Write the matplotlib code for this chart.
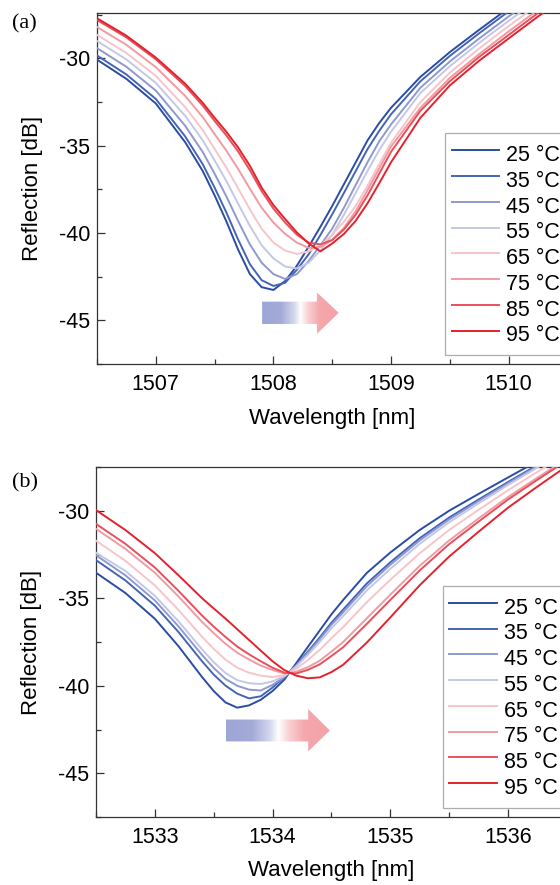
import numpy as np
import matplotlib
matplotlib.use("Agg")
import matplotlib.pyplot as plt
from matplotlib.colors import LinearSegmentedColormap
from matplotlib.patches import Polygon
from matplotlib.ticker import MultipleLocator

plt.rcParams["font.family"] = ["Liberation Sans", "DejaVu Sans"]
plt.rcParams["axes.unicode_minus"] = False

temps = [25, 35, 45, 55, 65, 75, 85, 95]
labels = [f"{t} °C" for t in temps]
colors = ["#2a4da3", "#4464b5", "#8e99cf", "#c3c8e6",
          "#f7c5c9", "#f29aa1", "#e8505b", "#e3222d"]

# (a) wavelength grid [nm] and reflection [dB] per temperature
wl_a = [1506.5, 1506.75, 1507.0, 1507.25, 1507.4, 1507.5, 1507.6, 1507.7, 1507.8, 1507.9,
        1508.0, 1508.1, 1508.2, 1508.3, 1508.4, 1508.5, 1508.6, 1508.7, 1508.8, 1508.9,
        1509.0, 1509.25, 1509.5, 1509.75, 1510.0, 1510.25, 1510.5]
a_25 = [-30.07, -31.17, -32.58, -34.8, -36.46, -37.84, -39.33, -40.95, -42.35, -43.1,
        -43.26, -42.75, -41.87, -40.78, -39.64, -38.45, -37.2, -35.95, -34.7, -33.7,
        -32.83, -31.06, -29.64, -28.36, -27.12, -25.97, -24.85]
a_35 = [-29.83, -30.92, -32.32, -34.47, -36.07, -37.4, -38.82, -40.37, -41.78, -42.7,
        -43.03, -42.85, -42.1, -41.22, -40.11, -38.93, -37.7, -36.45, -35.2, -34.15,
        -33.2, -31.31, -29.86, -28.56, -27.31, -26.15, -25.05]
a_45 = [-29.41, -30.48, -31.84, -33.86, -35.37, -36.6, -37.9, -39.31, -40.65, -41.7,
        -42.35, -42.63, -42.35, -41.6, -40.7, -39.75, -38.55, -37.25, -35.95, -34.75,
        -33.78, -31.68, -30.18, -28.86, -27.6, -26.43, -25.3]
a_55 = [-29.0, -30.06, -31.4, -33.29, -34.7, -35.84, -37.02, -38.32, -39.59, -40.7,
        -41.45, -41.92, -42.03, -41.7, -41.0, -40.1, -38.95, -37.7, -36.45, -35.25,
        -34.2, -31.98, -30.45, -29.11, -27.85, -26.65, -25.5]
a_65 = [-28.65, -29.69, -31.0, -32.79, -34.11, -35.18, -36.25, -37.44, -38.65, -39.75,
        -40.55, -41.0, -41.2, -41.05, -40.7, -40.1, -39.35, -38.45, -37.3, -36.05,
        -34.83, -32.5, -30.82, -29.43, -28.15, -26.93, -25.8]
a_75 = [-28.2, -29.22, -30.5, -32.15, -33.37, -34.33, -35.28, -36.33, -37.46, -38.55,
        -39.4, -40.05, -40.55, -40.85, -40.8, -40.4, -39.7, -38.75, -37.55, -36.3,
        -35.05, -32.83, -31.12, -29.75, -28.46, -27.22, -26.06]
a_85 = [-27.8, -28.8, -30.05, -31.58, -32.71, -33.58, -34.41, -35.33, -36.4, -37.6,
        -38.6, -39.4, -40.1, -40.55, -40.65, -40.4, -39.8, -38.95, -37.85, -36.6,
        -35.35, -33.0, -31.31, -29.91, -28.66, -27.4, -26.25]
a_95 = [-27.7, -28.7, -29.95, -31.45, -32.55, -33.4, -34.2, -35.1, -36.15, -37.4,
        -38.4, -39.2, -39.97, -40.6, -41.05, -40.6, -40.05, -39.3, -38.3, -37.15,
        -35.95, -33.4, -31.55, -30.13, -28.86, -27.6, -26.43]

# (b)
wl_b = [1532.5, 1532.75, 1533.0, 1533.2, 1533.4, 1533.5, 1533.6, 1533.7, 1533.8, 1533.9,
        1534.0, 1534.1, 1534.2, 1534.3, 1534.4, 1534.5, 1534.6, 1534.8, 1535.0, 1535.25,
        1535.5, 1535.75, 1536.0, 1536.25, 1536.5]
b_25 = [-33.54, -34.7, -36.17, -37.73, -39.49, -40.3, -40.95, -41.25, -41.12, -40.8,
        -40.3, -39.65, -38.72, -37.78, -36.85, -35.92, -35.1, -33.56, -32.39, -31.1,
        -30.0, -29.04, -28.1, -27.17, -26.25]
b_35 = [-32.82, -33.98, -35.42, -36.92, -38.59, -39.36, -39.99, -40.45, -40.72, -40.6,
        -40.1, -39.5, -38.83, -38.05, -37.25, -36.4, -35.65, -34.16, -32.95, -31.57,
        -30.39, -29.36, -28.36, -27.39, -26.43]
b_45 = [-32.54, -33.69, -35.12, -36.6, -38.23, -38.98, -39.61, -40.0, -40.22, -40.27,
        -39.95, -39.5, -38.86, -38.12, -37.35, -36.52, -35.8, -34.32, -33.09, -31.7,
        -30.5, -29.45, -28.43, -27.45, -26.48]
b_55 = [-32.4, -33.44, -34.86, -36.31, -37.91, -38.65, -39.27, -39.68, -39.85, -39.9,
        -39.75, -39.45, -38.9, -38.23, -37.51, -36.72, -36.02, -34.56, -33.32, -31.89,
        -30.66, -29.58, -28.53, -27.53, -26.55]
b_65 = [-31.71, -32.86, -34.26, -35.66, -37.19, -37.89, -38.5, -38.97, -39.25, -39.42,
        -39.5, -39.4, -39.03, -38.53, -37.96, -37.28, -36.65, -35.23, -33.95, -32.43,
        -31.1, -29.95, -28.83, -27.78, -26.75]
b_75 = [-31.03, -32.18, -33.54, -34.89, -36.34, -36.99, -37.6, -38.11, -38.5, -38.85,
        -39.1, -39.3, -39.2, -38.94, -38.57, -38.05, -37.5, -36.15, -34.8, -33.15,
        -31.7, -30.44, -29.22, -28.11, -27.03]
b_85 = [-30.75, -31.89, -33.24, -34.57, -35.98, -36.62, -37.21, -37.76, -38.2, -38.6,
        -38.97, -39.25, -39.3, -39.09, -38.78, -38.3, -37.8, -36.47, -35.1, -33.41,
        -31.91, -30.62, -29.36, -28.23, -27.13]
b_95 = [-29.96, -31.1, -32.42, -33.68, -34.99, -35.58, -36.16, -36.77, -37.38, -37.99,
        -38.6, -39.1, -39.42, -39.57, -39.52, -39.22, -38.8, -37.54, -36.1, -34.26,
        -32.62, -31.2, -29.83, -28.62, -27.45]

series_a = [a_25, a_35, a_45, a_55, a_65, a_75, a_85, a_95]
series_b = [b_25, b_35, b_45, b_55, b_65, b_75, b_85, b_95]

arrow_cmap = LinearSegmentedColormap.from_list(
    "shift", [(0.0, "#9ea6d6"), (0.25, "#a4abd8"), (0.42, "#d5d8ee"), (0.5, "#ffffff"),
              (0.6, "#f9d0d3"), (0.75, "#f4a7ac"), (1.0, "#f4a2a8")])


def gradient_arrow(ax, x0, xh, xt, yb0, yb1, yh0, yh1):
    ym = 0.5 * (yb0 + yb1)
    pts = [(x0, yb0), (xh, yb0), (xh, yh0), (xt, ym), (xh, yh1), (xh, yb1), (x0, yb1)]
    poly = Polygon(pts, closed=True, facecolor="none", edgecolor="none")
    ax.add_patch(poly)
    grad = np.linspace(0, 1, 256).reshape(1, -1)
    im = ax.imshow(grad, extent=[x0, xt, yh1, yh0], aspect="auto", cmap=arrow_cmap,
                   origin="lower", zorder=1, interpolation="bilinear")
    im.set_clip_path(poly)


def style_axis(ax, xlim, ylim):
    ax.set_xlim(*xlim)
    ax.set_ylim(*ylim)
    ax.xaxis.set_major_locator(MultipleLocator(1))
    ax.xaxis.set_minor_locator(MultipleLocator(0.5))
    ax.yaxis.set_major_locator(MultipleLocator(5))
    ax.yaxis.set_minor_locator(MultipleLocator(2.5))
    ax.tick_params(which="both", direction="in", labelsize=15.5, width=0.9, color="#333333")
    ax.tick_params(which="major", length=6)
    ax.tick_params(which="minor", length=3.5)
    ax.tick_params(axis="x", pad=7)
    ax.tick_params(axis="y", pad=5)
    for sp in ax.spines.values():
        sp.set_linewidth(0.9)
        sp.set_color("#333333")
    ax.set_xlabel("Wavelength [nm]", fontsize=16)
    ax.set_ylabel("Reflection [dB]", fontsize=16)


fig = plt.figure(figsize=(5.6, 8.85), dpi=100)
ax_a = fig.add_axes([0.1732, 0.5887, 0.84, 0.3966])
ax_b = fig.add_axes([0.1714, 0.0768, 0.8407, 0.3955])

panels = [
    (ax_a, wl_a, series_a, (1506.5, 1510.5), (-47.5, -27.4), (0.74, 0.658), -0.124,
     (1507.904, 1508.37, 1508.555, -43.93, -45.21, -43.4, -45.78)),
    (ax_b, wl_b, series_b, (1532.5, 1536.5), (-47.5, -27.5), (0.737, 0.661), -0.122,
     (1533.603, 1534.303, 1534.487, -41.93, -43.18, -41.33, -43.75)),
]

for ax, wl, series, xlim, ylim, leg_pos, xlab_y, arrow in panels:
    for ys, c, lab in zip(series, colors, labels):
        ax.plot(wl, ys, color=c, lw=1.4, label=lab, zorder=3)
    gradient_arrow(ax, *arrow)
    style_axis(ax, xlim, ylim)
    ax.yaxis.set_label_coords(-0.115, 0.5)
    ax.xaxis.set_label_coords(0.5, xlab_y)
    leg = ax.legend(loc="upper left", bbox_to_anchor=leg_pos, borderaxespad=0,
                    fontsize=15.5, frameon=True, fancybox=False, handlelength=2.2,
                    handleheight=1.7, handletextpad=0.33, labelspacing=-0.154,
                    borderpad=0.3)
    leg.get_frame().set_edgecolor("#999999")
    leg.get_frame().set_linewidth(0.9)

fig.text(0.022, 0.973, "(a)", fontsize=16, family=["Liberation Serif", "DejaVu Serif"],
         va="center", ha="left")
fig.text(0.022, 0.454, "(b)", fontsize=16, family=["Liberation Serif", "DejaVu Serif"],
         va="center", ha="left")

fig.savefig("out.png", dpi=100)
